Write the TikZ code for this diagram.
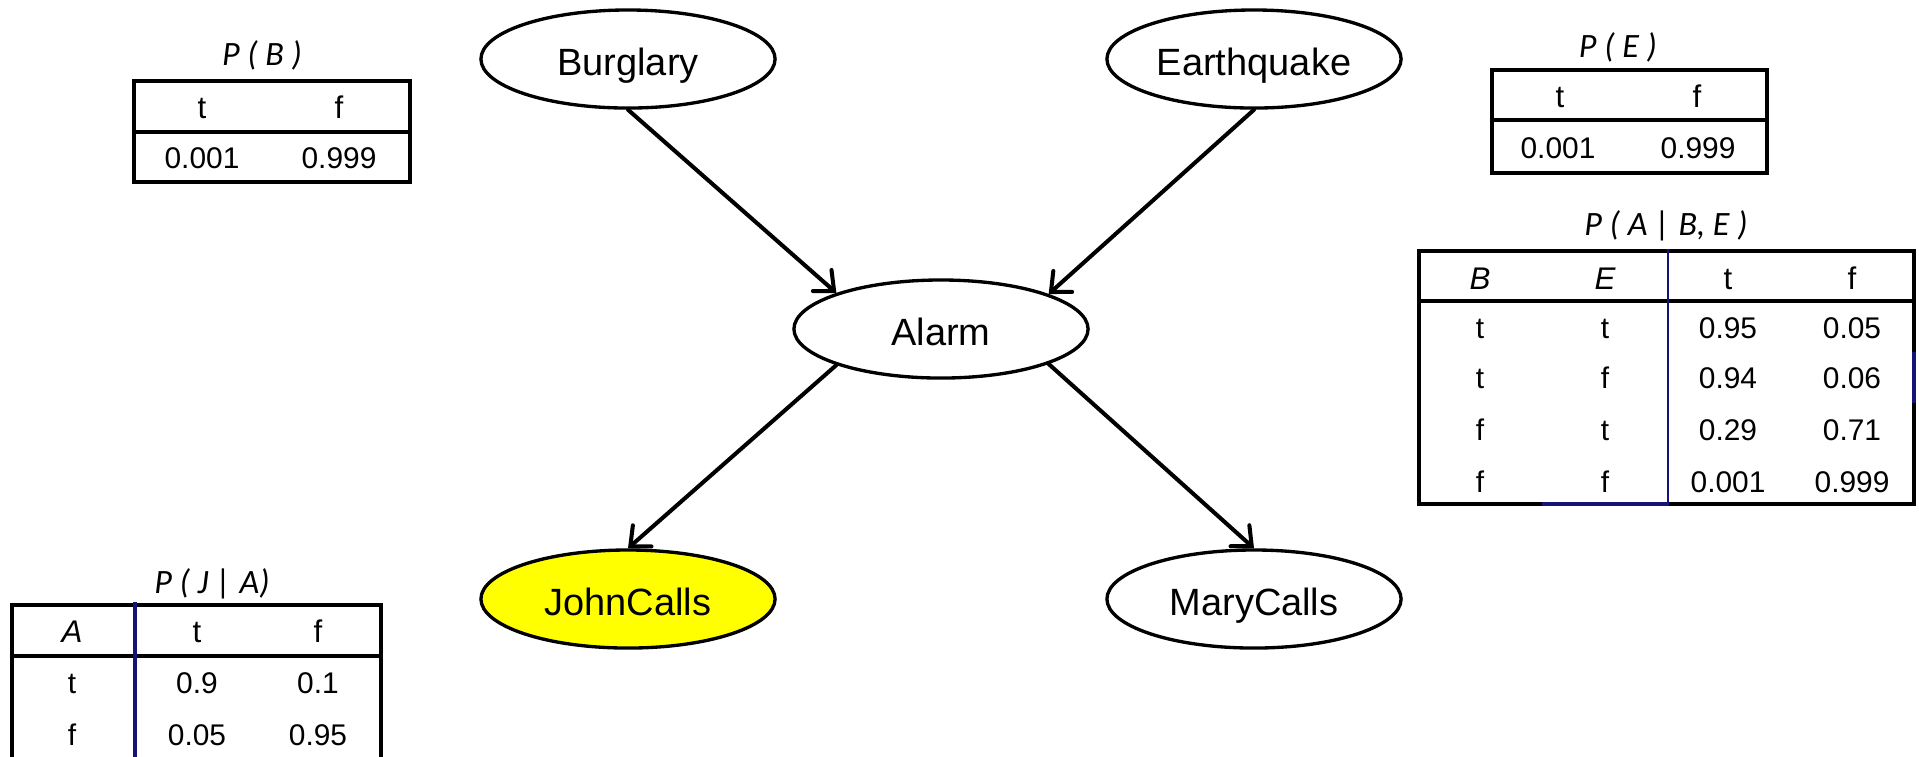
\documentclass[tikz,border=0pt]{standalone}
\usepackage{fontspec}
\setmainfont{Liberation Sans}
\newfontfamily\titlefont{Carlito}
\usetikzlibrary{shapes.geometric,arrows.meta}
\definecolor{gridblue}{RGB}{20,20,120}
\definecolor{evidence}{RGB}{255,255,0}

\begin{document}
\begin{tikzpicture}[x=0.01cm,y=-0.01cm,
  var/.style={ellipse,draw,line width=0.95pt,minimum width=2.94cm,minimum height=0.98cm,
    inner sep=0pt,font=\fontsize{10.8}{12}\selectfont,text height=9.1pt,text depth=0pt},
  link/.style={line width=1.15pt,line cap=round,
    -{Straight Barb[length=4.5pt,width=8pt,line cap=round]}},
  frame/.style={line width=1.4pt},
  divider/.style={gridblue,line width=0.75pt},
  cell/.style={anchor=base,inner sep=0pt,font=\fontsize{8.5}{10}\selectfont},
  headcell/.style={anchor=base,inner sep=0pt,font=\fontsize{8.9}{10}\selectfont},
  title/.style={anchor=base,inner sep=0pt,font=\titlefont\itshape\fontsize{9.7}{11}\selectfont},
]
\useasboundingbox (0,0) rectangle (1919,756);
\clip (0,0) rectangle (1919,756);

% ---------- network ----------
\node[var] (bur)   at (628,59)   {Burglary};
\node[var] (eq)    at (1254,59)  {Earthquake};
\node[var] (alarm) at (941,329)  {Alarm};
\node[var,fill=evidence] (john) at (628,599) {JohnCalls};
\node[var] (mary)  at (1254,599) {MaryCalls};

\draw[link] (bur.south) -- (alarm.161);
\draw[link] (eq.south) -- (alarm.18);
\draw[link] (alarm.199) -- (john.north);
\draw[link] (alarm.-18) -- (mary.north);

% ---------- P(B) ----------
\node[title] (tB) at (262,65) {P ( B )};
\draw[frame] (134,81) rectangle (410,182);
\draw[frame] (134,132) -- (410,132);
\node[headcell] (bT) at (202,118) {t};
\node[headcell] (bF) at (339,118) {f};
\node[cell] (bT1) at (202,168) {0.001};
\node[cell] (bF1) at (339,168) {0.999};

% ---------- P(E) ----------
\node[title] (tE) at (1618,57) {P ( E )};
\draw[frame] (1492,70) rectangle (1767,173);
\draw[frame] (1492,120) -- (1767,120);
\node[headcell] (eT) at (1560,107) {t};
\node[headcell] (eF) at (1697,107) {f};
\node[cell] (eT1) at (1558,158) {0.001};
\node[cell] (eF1) at (1698,158) {0.999};

% ---------- P(A | B, E) ----------
\node[title] (tA) at (1666,235) {P ( A | B, E )};
\draw[frame] (1419,251) rectangle (1914,504);
\draw[frame] (1419,301) -- (1914,301);
\draw[divider] (1668,249) -- (1668,506);
\draw[frame,gridblue] (1542,504) -- (1668,504);
\draw[frame,gridblue] (1914,352) -- (1914,403);
\node[headcell] (aB) at (1480,289) {\itshape B};
\node[headcell] (aE) at (1605,289) {\itshape E};
\node[headcell] (aT) at (1728,289) {t};
\node[headcell] (aF) at (1852,289) {f};
\foreach \b/\e/\pt/\pf/\y [count=\i] in
  {t/t/0.95/0.05/338, t/f/0.94/0.06/388, f/t/0.29/0.71/440, f/f/0.001/0.999/492}{
  \node[cell] (aB\i) at (1480,\y) {\b};
  \node[cell] (aE\i) at (1605,\y) {\e};
  \node[cell] (aT\i) at (1728,\y) {\pt};
  \node[cell] (aF\i) at (1852,\y) {\pf};
}

% ---------- P(J | A) ----------
\node[title] (tJ) at (212,593) {P ( J | A)};
\draw[frame] (12,605) rectangle (381,800);
\draw[frame] (12,656) -- (381,656);
\draw[divider,line width=1.1pt] (135,602) -- (135,800);
\node[headcell] (jA) at (72,642) {\itshape A};
\node[headcell] (jT) at (197,642) {t};
\node[headcell] (jF) at (318,642) {f};
\node[cell] (jA1) at (72,693) {t};
\node[cell] (jT1) at (197,693) {0.9};
\node[cell] (jF1) at (318,693) {0.1};
\node[cell] (jA2) at (72,745) {f};
\node[cell] (jT2) at (197,745) {0.05};
\node[cell] (jF2) at (318,745) {0.95};
\end{tikzpicture}
\end{document}
